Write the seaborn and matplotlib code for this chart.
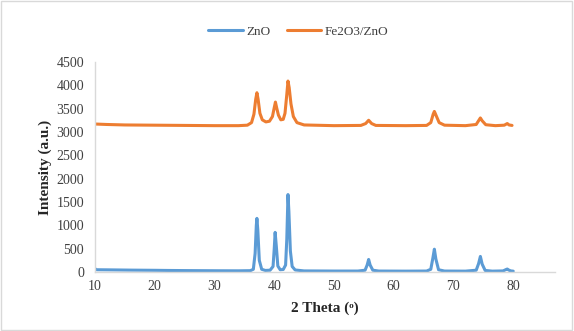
import seaborn as sns
import matplotlib.pyplot as plt
from matplotlib.patches import Rectangle

# values (2 theta in degrees, intensity a.u.)
zno_theta = [10, 10.3, 12, 14, 16, 18, 20, 22, 25, 28, 31, 34, 36.0, 36.5, 36.8, 37.0, 37.1, 37.25,
             37.5, 37.9, 38.5, 39.3, 39.8, 40.0, 40.15, 40.35, 40.6, 41.0, 41.5, 41.9, 42.1, 42.3,
             42.45, 42.7, 43.0, 43.5, 45, 50, 54, 55.2, 55.55, 55.8, 56.05, 56.5, 57.5, 62, 65.5,
             66.2, 66.55, 66.8, 67.05, 67.5, 68.5, 72, 73.8, 74.2, 74.5, 74.8, 75.3, 76.5, 78.3,
             78.8, 79.0, 79.3, 79.6, 80]
zno_int = [70, 50, 48, 45, 42, 40, 38, 35, 32, 30, 28, 27, 30, 60, 400, 1000, 1150, 900,
           250, 60, 35, 40, 120, 500, 850, 550, 130, 50, 55, 150, 700, 1660,
           1300, 450, 120, 45, 25, 22, 22, 40, 150, 270, 150, 40, 22, 20, 22,
           60, 300, 490, 280, 50, 22, 20, 40, 180, 335, 170, 35, 20, 25,
           55, 65, 40, 25, 20]

fe_theta = [10, 12, 15, 20, 25, 30, 34, 35.5, 36.2, 36.6, 36.9, 37.1, 37.3, 37.6, 38.0, 38.6,
            39.2, 39.7, 40.0, 40.2, 40.4, 40.7, 41.1, 41.5, 41.8, 42.1, 42.3, 42.5, 42.8, 43.2,
            43.8, 45, 50, 54.5, 55.3, 55.8, 56.3, 57, 62, 65.5, 66.2, 66.6, 66.8, 67.1, 67.6,
            68.5, 72, 73.8, 74.3, 74.5, 74.8, 75.4, 77, 78.5, 79.0, 79.3, 79.8]
fe_int = [3170, 3160, 3150, 3145, 3140, 3135, 3135, 3145, 3200, 3380, 3700, 3840, 3700, 3400, 3260, 3215,
          3230, 3330, 3520, 3640, 3520, 3360, 3260, 3270, 3400, 3800, 4090, 3950, 3600, 3330,
          3200, 3150, 3135, 3140, 3180, 3250, 3180, 3140, 3135, 3140, 3200, 3380, 3440, 3350, 3200,
          3145, 3135, 3160, 3260, 3300, 3240, 3155, 3135, 3145, 3180, 3150, 3140]

x_ticks = [10, 20, 30, 40, 50, 60, 70, 80]
y_ticks = [0, 500, 1000, 1500, 2000, 2500, 3000, 3500, 4000, 4500]

sns.set_style("white")
plt.rcParams['font.family'] = ['Liberation Serif', 'DejaVu Serif']

fig = plt.figure(figsize=(5.74, 3.31), dpi=100)
ax = fig.add_axes([0.1655, 0.178, 0.8015, 0.635])

sns.lineplot(x=zno_theta, y=zno_int, color="#5B9BD5", linewidth=2.2, label="ZnO", ax=ax)
sns.lineplot(x=fe_theta, y=fe_int, color="#ED7D31", linewidth=2.2, label="Fe2O3/ZnO", ax=ax)

ax.set_xlim(10, 87)
ax.set_ylim(0, 4500)
ax.set_xticks(x_ticks)
ax.set_yticks(y_ticks)
ax.tick_params(axis="both", length=0, labelsize=10, colors="#404040")
ax.tick_params(axis="y", pad=8)
ax.tick_params(axis="x", pad=6)
for side in ["top", "right"]:
    ax.spines[side].set_visible(False)
for side in ["left", "bottom"]:
    ax.spines[side].set_color("#D9D9D9")
    ax.spines[side].set_linewidth(1)

ax.set_xlabel("2 Theta (ᵒ)", fontsize=11, fontweight="bold", labelpad=6)
ax.set_ylabel("Intensity (a.u.)", fontsize=11, fontweight="bold", labelpad=3)

ax.get_legend().remove()
handles, labels = ax.get_legend_handles_labels()
fig.legend(handles, labels, loc="center", bbox_to_anchor=(0.52, 0.905), ncol=2,
           frameon=False, fontsize=9.5, handlelength=2.6, columnspacing=1.2, handletextpad=0.3,
           labelcolor="#404040")

fig.patches.append(Rectangle((0.002, 0.003), 0.995, 0.994, transform=fig.transFigure,
                             fill=False, edgecolor="#D9D9D9", linewidth=1))

fig.savefig("out.png", dpi=100)
